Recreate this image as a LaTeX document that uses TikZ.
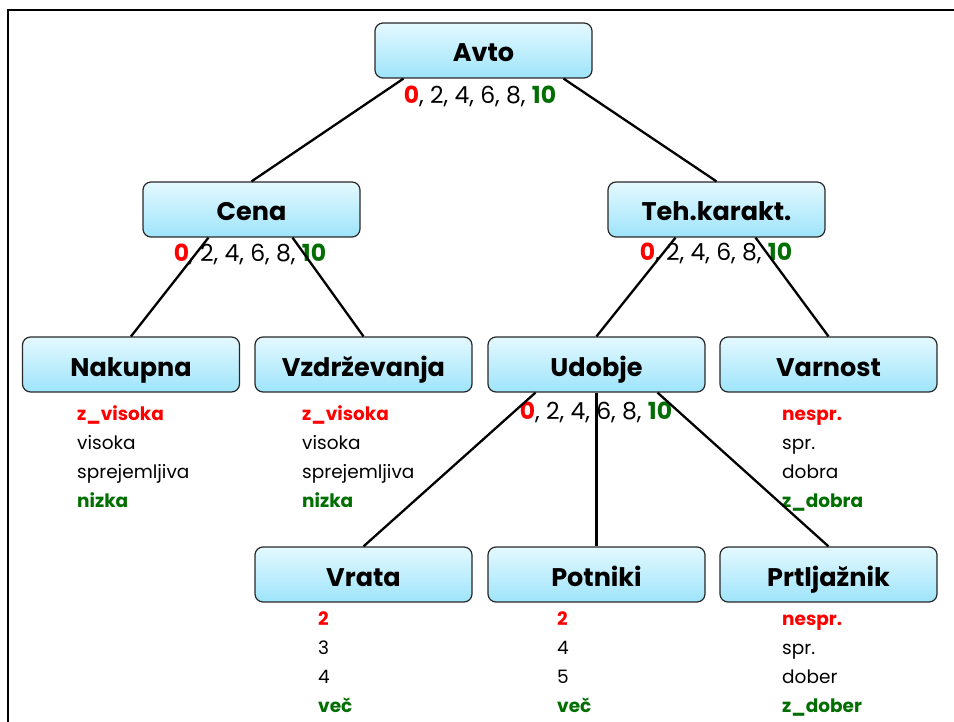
\documentclass[tikz,border=0pt]{standalone}
\usepackage{fontspec}
\setmainfont{Poppins}
\definecolor{cred}{RGB}{255,0,0}
\definecolor{cgreen}{RGB}{0,110,0}
\definecolor{boxtop}{RGB}{228,249,255}
\definecolor{boxbot}{RGB}{158,228,250}
\definecolor{boxline}{RGB}{40,40,40}
\newcommand{\lo}{{\color{cred}\bfseries 0}}
\newcommand{\hi}{{\color{cgreen}\bfseries 10}}
\begin{document}
\begin{tikzpicture}[x=1pt,y=-1pt,
  box/.style={draw=boxline, line width=1.2pt, rounded corners=8pt, top color=boxtop, bottom color=boxbot,
    minimum width=217pt, minimum height=55pt, inner sep=0pt, text height=26pt, text depth=3pt,
    font=\fontsize{25.5}{28}\selectfont\bfseries},
  scl/.style={font=\fontsize{23.5}{26}\selectfont, inner sep=0pt, anchor=base},
  lst/.style={font=\fontsize{18.5}{24}\selectfont, inner sep=0pt, anchor=base west},
  rd/.style={text=cred, font=\fontsize{18.5}{24}\selectfont\bfseries},
  gr/.style={text=cgreen, font=\fontsize{18.5}{24}\selectfont\bfseries},
  edge/.style={line width=2.3pt}]
\useasboundingbox (0,0) rectangle (954,722);
\coordinate (fr1) at (954,10);
\coordinate (fr2) at (8,10);
\coordinate (fr3) at (8,722);
\draw[line width=2pt] (fr1) -- (fr2) -- (fr3);

\node[box] (avto) at (483.5,50.5) {Avto};
\node[box] (cena) at (251.5,209.5) {Cena};
\node[box] (teh) at (716.5,209.5) {Teh.karakt.};
\node[box] (nak) at (131,364.5) {Nakupna};
\node[box] (vzd) at (363.5,364.5) {Vzdrževanja};
\node[box] (udo) at (596.5,364.5) {Udobje};
\node[box] (var) at (828.5,364.5) {Varnost};
\node[box] (vra) at (363.5,574.5) {Vrata};
\node[box] (pot) at (596.5,574.5) {Potniki};
\node[box] (prt) at (828.5,574.5) {Prtljažnik};

\node[scl] (savto) at (480,104) {\lo, 2, 4, 6, 8, \hi};
\node[scl] (scena) at (250,262) {\lo, 2, 4, 6, 8, \hi};
\node[scl] (steh) at (716,261) {\lo, 2, 4, 6, 8, \hi};
\node[scl] (sudo) at (596,419) {\lo, 2, 4, 6, 8, \hi};

% Nakupna
\node[lst,rd] (n1) at (77,420) {z\_visoka};
\node[lst] (n2) at (77,449) {visoka};
\node[lst] (n3) at (77,478) {sprejemljiva};
\node[lst,gr] (n4) at (77,507) {nizka};
% Vzdrzevanja
\node[lst,rd] (v1) at (302,420) {z\_visoka};
\node[lst] (v2) at (302,449) {visoka};
\node[lst] (v3) at (302,478) {sprejemljiva};
\node[lst,gr] (v4) at (302,507) {nizka};
% Varnost
\node[lst,rd] (a1) at (782,420) {nespr.};
\node[lst] (a2) at (782,449) {spr.};
\node[lst] (a3) at (782,478) {dobra};
\node[lst,gr] (a4) at (782,507) {z\_dobra};
% Vrata
\node[lst,rd] (r1) at (318,625) {2};
\node[lst] (r2) at (318,654) {3};
\node[lst] (r3) at (318,683) {4};
\node[lst,gr] (r4) at (318,712) {več};
% Potniki
\node[lst,rd] (p1) at (557,625) {2};
\node[lst] (p2) at (557,654) {4};
\node[lst] (p3) at (557,683) {5};
\node[lst,gr] (p4) at (557,712) {več};
% Prtljaznik
\node[lst,rd] (t1) at (782,625) {nespr.};
\node[lst] (t2) at (782,654) {spr.};
\node[lst] (t3) at (782,683) {dober};
\node[lst,gr] (t4) at (782,712) {z\_dober};

\draw[edge] ([xshift=-80pt]avto.south) -- (cena.north);
\draw[edge] ([xshift=80pt]avto.south) -- (teh.north);
\draw[edge] ([xshift=-43pt]cena.south) -- (nak.north);
\draw[edge] ([xshift=41pt]cena.south) -- (vzd.north);
\draw[edge] ([xshift=-41pt]teh.south) -- (udo.north);
\draw[edge] ([xshift=39pt]teh.south) -- (var.north);
\draw[edge] ([xshift=-61pt]udo.south) -- (vra.north);
\draw[edge] (udo.south) -- (pot.north);
\draw[edge] ([xshift=61pt]udo.south) -- (prt.north);
\end{tikzpicture}
\end{document}
